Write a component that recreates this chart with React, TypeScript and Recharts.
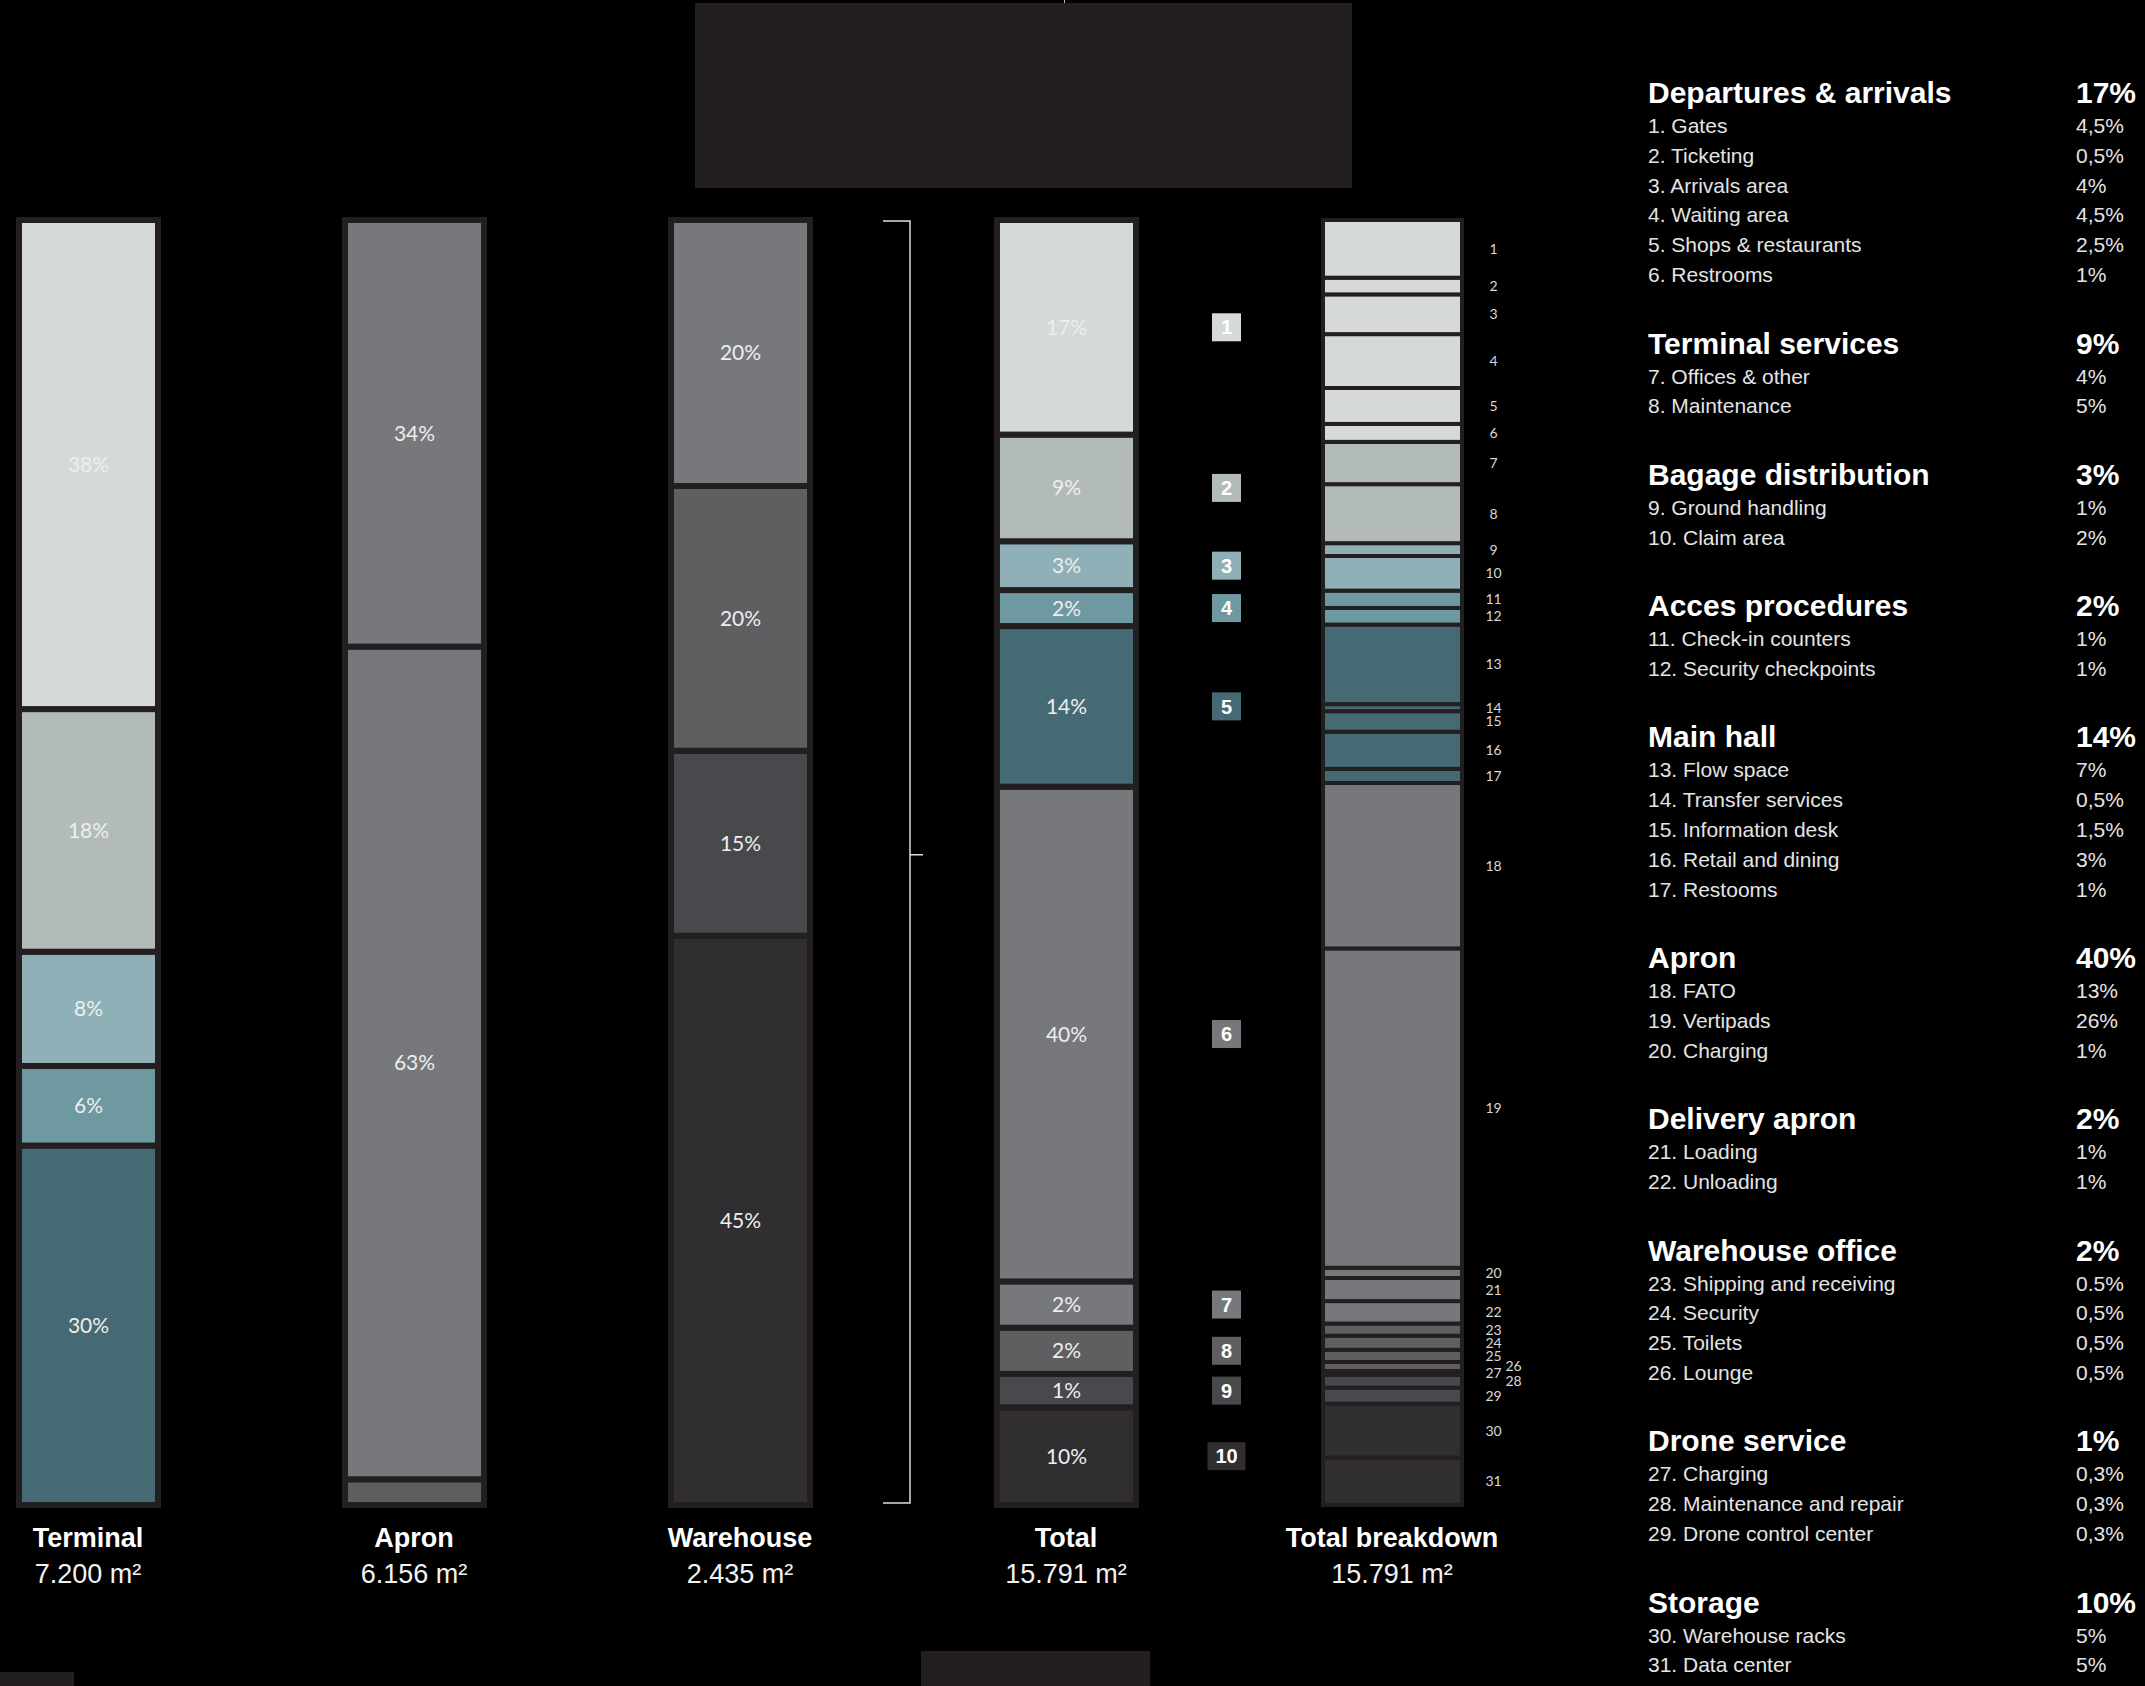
import React from 'react';
import { BarChart, Bar, XAxis, YAxis } from 'recharts';

// ---------- data (segment shares as drawn) ----------
const columnNames = ['Terminal', 'Apron', 'Warehouse', 'Total', 'Total breakdown'];
const columnAreas = ['7.200 m²', '6.156 m²', '2.435 m²', '15.791 m²', '15.791 m²'];

const terminalValues = [38.1, 18.9, 8.9, 6.2, 28.0];
const terminalLabels = ['38%', '18%', '8%', '6%', '30%'];

const apronValues = [33.2, 64.8, 2.0];
const apronLabels = ['34%', '63%', ''];

const warehouseValues = [20.7, 20.6, 14.4, 44.3];
const warehouseLabels = ['20%', '20%', '15%', '45%'];

const totalValues = [16.7, 8.3, 3.8, 2.8, 12.5, 38.5, 3.6, 3.6, 2.6, 7.6];
const totalLabels = ['17%', '9%', '3%', '2%', '14%', '40%', '2%', '2%', '1%', '10%'];

const groupNames = [
  'Departures & arrivals', 'Terminal services', 'Bagage distribution', 'Acces procedures',
  'Main hall', 'Apron', 'Delivery apron', 'Warehouse office', 'Drone service', 'Storage',
];
const groupTotals = ['17%', '9%', '3%', '2%', '14%', '40%', '2%', '2%', '1%', '10%'];
const groupSizes = [6, 2, 2, 2, 5, 3, 2, 4, 3, 2];

const itemNames = [
  'Gates', 'Ticketing', 'Arrivals area', 'Waiting area', 'Shops & restaurants', 'Restrooms',
  'Offices & other', 'Maintenance',
  'Ground handling', 'Claim area',
  'Check-in counters', 'Security checkpoints',
  'Flow space', 'Transfer services', 'Information desk', 'Retail and dining', 'Restooms',
  'FATO', 'Vertipads', 'Charging',
  'Loading', 'Unloading',
  'Shipping and receiving', 'Security', 'Toilets', 'Lounge',
  'Charging', 'Maintenance and repair', 'Drone control center',
  'Warehouse racks', 'Data center',
];
const breakdownValues = [
  4.5, 1.3, 3.1, 4.2, 2.8, 1.4,
  3.3, 4.6,
  1.0, 2.7,
  1.35, 1.3,
  6.2, 0.55, 1.6, 2.9, 1.1,
  12.9, 24.9, 0.8,
  1.8, 1.75,
  0.95, 1.1, 0.95, 0.7,
  0.3, 1.0, 1.25,
  4.2, 3.7,
];
const itemValueLabels = [
  '4,5%', '0,5%', '4%', '4,5%', '2,5%', '1%',
  '4%', '5%',
  '1%', '2%',
  '1%', '1%',
  '7%', '0,5%', '1,5%', '3%', '1%',
  '13%', '26%', '1%',
  '1%', '1%',
  '0.5%', '0,5%', '0,5%', '0,5%',
  '0,3%', '0,3%', '0,3%',
  '5%', '5%',
];

// ---------- colours ----------
const C1 = '#d5d9da';
const C2 = '#b3bbba';
const C3 = '#8fb0b6';
const C4 = '#6e99a1';
const C5 = '#466a73';
const C6 = '#77787c';
const C7 = '#5f5f62';
const C8 = '#48494c';
const C9 = '#302e30';
const BORDER = '#231f20';

const terminalColors = [C1, C2, C3, C4, C5];
const apronColors = [C6, C6, C7];
const warehouseColors = [C6, C7, C8, C9];
const totalColors = [C1, C2, C3, C4, C5, C6, C6, C7, C8, C9];

const itemGroup: number[] = [];
groupSizes.forEach((n, g) => { for (let i = 0; i < n; i++) itemGroup.push(g); });
const breakdownColors = itemGroup.map((g) => totalColors[g]);

const columnValues = [terminalValues, apronValues, warehouseValues, totalValues, breakdownValues];
const columnColors = [terminalColors, apronColors, warehouseColors, totalColors, breakdownColors];
const pctLabels = [terminalLabels, apronLabels, warehouseLabels, totalLabels];

const MAX_SEG = Math.max(...columnValues.map((v) => v.length));
const data = columnNames.map((name, c) => {
  const row: any = { name };
  for (let k = 0; k < MAX_SEG; k++) row['s' + k] = columnValues[c][k] ?? 0;
  return row;
});

// ---------- layout ----------
const PAGE_W = 2145;
const PAGE_H = 1686;
const CHART_LEFT = -75;
const CHART_W = 1630;
const BAND = CHART_W / columnNames.length;
const PLOT_TOP = 220;
const PLOT_BOTTOM = 1505;
const AXIS_H = 100;
const BAR_W = 139;
const shiftedNumbers = [26, 28];

const SANS = '"Liberation Sans", Arial, sans-serif';
const ROUND = 'Lato, "Open Sans", sans-serif';

const makeShape = (k: number) => (props: any) => {
  const { x, y, width, height, payload } = props;
  if (!height || height < 0.05) return <g />;
  let c = payload ? columnNames.indexOf(payload.name) : -1;
  if (c < 0) c = props.index;
  const v = columnValues[c]?.[k];
  if (!v) return <g />;
  const cx = x + width / 2;
  const cy = y + height / 2;
  const els: any[] = [
    <rect key="r" x={x} y={y} width={width} height={height}
      fill={columnColors[c][k]} stroke={BORDER} strokeWidth={c === 4 ? 4 : 6} />,
  ];
  if (c <= 3) {
    const txt = pctLabels[c][k];
    if (txt) {
      els.push(
        <text key="t" x={cx} y={cy + 7.5} textAnchor="middle" fontFamily={ROUND}
          fontSize={21} fill="#eeeeee">{txt}</text>
      );
    }
  }
  if (c === 3) {
    const label = String(k + 1);
    const bw = label.length > 1 ? 38 : 29;
    const bxc = cx + 160;
    els.push(<rect key="b" x={bxc - bw / 2} y={cy - 14} width={bw} height={28} fill={totalColors[k]} />);
    els.push(
      <text key="bt" x={bxc} y={cy + 7.2} textAnchor="middle" fontFamily={SANS}
        fontWeight="bold" fontSize={20} fill="#ffffff">{label}</text>
    );
  }
  if (c === 4) {
    const n = k + 1;
    const dx = shiftedNumbers.includes(n) ? 121 : 101;
    els.push(
      <text key="n" x={cx + dx} y={cy + 5} textAnchor="middle" fontFamily={ROUND}
        fontSize={14} fill="#d8d8d8">{n}</text>
    );
  }
  return <g>{els}</g>;
};

const AxisTick = (props: any) => {
  const { x, y, payload } = props;
  const c = columnNames.indexOf(payload.value);
  return (
    <g>
      <text x={x} y={y + 41.5} textAnchor="middle" fontFamily={SANS} fontWeight="bold"
        fontSize={27} fill="#ffffff">{payload.value}</text>
      <text x={x} y={y + 77.5} textAnchor="middle" fontFamily={SANS}
        fontSize={27} fill="#f2f2f2">{columnAreas[c]}</text>
    </g>
  );
};

// legend layout
const LEG_X = 1648;
const VAL_X = 2076;
const TITLE0 = 93;
const ROW = 29.8;
const TITLE_TO_ITEM = 33;
const GROUP_GAP = 68.5;

function Legend() {
  const lines: any[] = [];
  let ty = TITLE0;
  let item = 0;
  groupNames.forEach((g, gi) => {
    lines.push(
      <div key={'g' + gi} style={{ position: 'absolute', left: LEG_X, top: ty - 20, height: 40, lineHeight: '40px', fontSize: 30, fontWeight: 'bold', color: '#ffffff', whiteSpace: 'nowrap' }}>{g}</div>
    );
    lines.push(
      <div key={'gv' + gi} style={{ position: 'absolute', left: VAL_X, top: ty - 20, height: 40, lineHeight: '40px', fontSize: 30, fontWeight: 'bold', color: '#ffffff', whiteSpace: 'nowrap' }}>{groupTotals[gi]}</div>
    );
    let iy = ty + TITLE_TO_ITEM;
    for (let i = 0; i < groupSizes[gi]; i++) {
      lines.push(
        <div key={'i' + item} style={{ position: 'absolute', left: LEG_X, top: iy - 20, height: 40, lineHeight: '40px', fontSize: 21, color: '#e4e4e4', whiteSpace: 'nowrap' }}>{`${item + 1}. ${itemNames[item]}`}</div>
      );
      lines.push(
        <div key={'iv' + item} style={{ position: 'absolute', left: VAL_X, top: iy - 20, height: 40, lineHeight: '40px', fontSize: 21, color: '#e4e4e4', whiteSpace: 'nowrap' }}>{itemValueLabels[item]}</div>
      );
      item++;
      if (i < groupSizes[gi] - 1) iy += ROW;
    }
    ty = iy + GROUP_GAP;
  });
  return <>{lines}</>;
}

export default function App() {
  const whCenter = CHART_LEFT + BAND * 2.5;
  const bx = whCenter + 170;
  const tickY = PLOT_TOP + (PLOT_BOTTOM - PLOT_TOP) * 0.494;
  const order = Array.from({ length: MAX_SEG }, (_, i) => MAX_SEG - 1 - i);
  return (
    <div style={{ position: 'absolute', left: 0, top: 0, width: PAGE_W, height: PAGE_H, background: '#000', overflow: 'hidden', fontFamily: SANS }}>
      <div style={{ position: 'absolute', left: 695, top: 3, width: 657, height: 185, background: BORDER }} />
      <div style={{ position: 'absolute', left: 1064, top: 0, width: 1, height: 3, background: '#bbbbbb' }} />
      <div style={{ position: 'absolute', left: 0, top: 1672, width: 74, height: 14, background: BORDER }} />
      <div style={{ position: 'absolute', left: 921, top: 1651, width: 229, height: 35, background: BORDER }} />

      <div style={{ position: 'absolute', left: CHART_LEFT, top: 0 }}>
        <BarChart
          width={CHART_W}
          height={PAGE_H}
          data={data}
          stackOffset="expand"
          margin={{ top: PLOT_TOP, right: 0, left: 0, bottom: PAGE_H - PLOT_BOTTOM - AXIS_H }}
        >
          <XAxis dataKey="name" height={AXIS_H} axisLine={false} tickLine={false}
            tickSize={0} tickMargin={0} interval={0} tick={<AxisTick />} />
          <YAxis hide type="number" domain={[0, 1]} />
          {order.map((k) => (
            <Bar key={k} dataKey={'s' + k} stackId="a" barSize={BAR_W}
              isAnimationActive={false} shape={makeShape(k)} />
          ))}
        </BarChart>
      </div>

      <svg width={PAGE_W} height={PAGE_H} style={{ position: 'absolute', left: 0, top: 0, pointerEvents: 'none' }}>
        <path d={`M ${bx - 27} ${PLOT_TOP + 1} H ${bx} V ${PLOT_BOTTOM - 2} H ${bx - 27} M ${bx} ${tickY} H ${bx + 13}`}
          fill="none" stroke="#dddddd" strokeWidth={1.5} />
      </svg>

      <Legend />
    </div>
  );
}
